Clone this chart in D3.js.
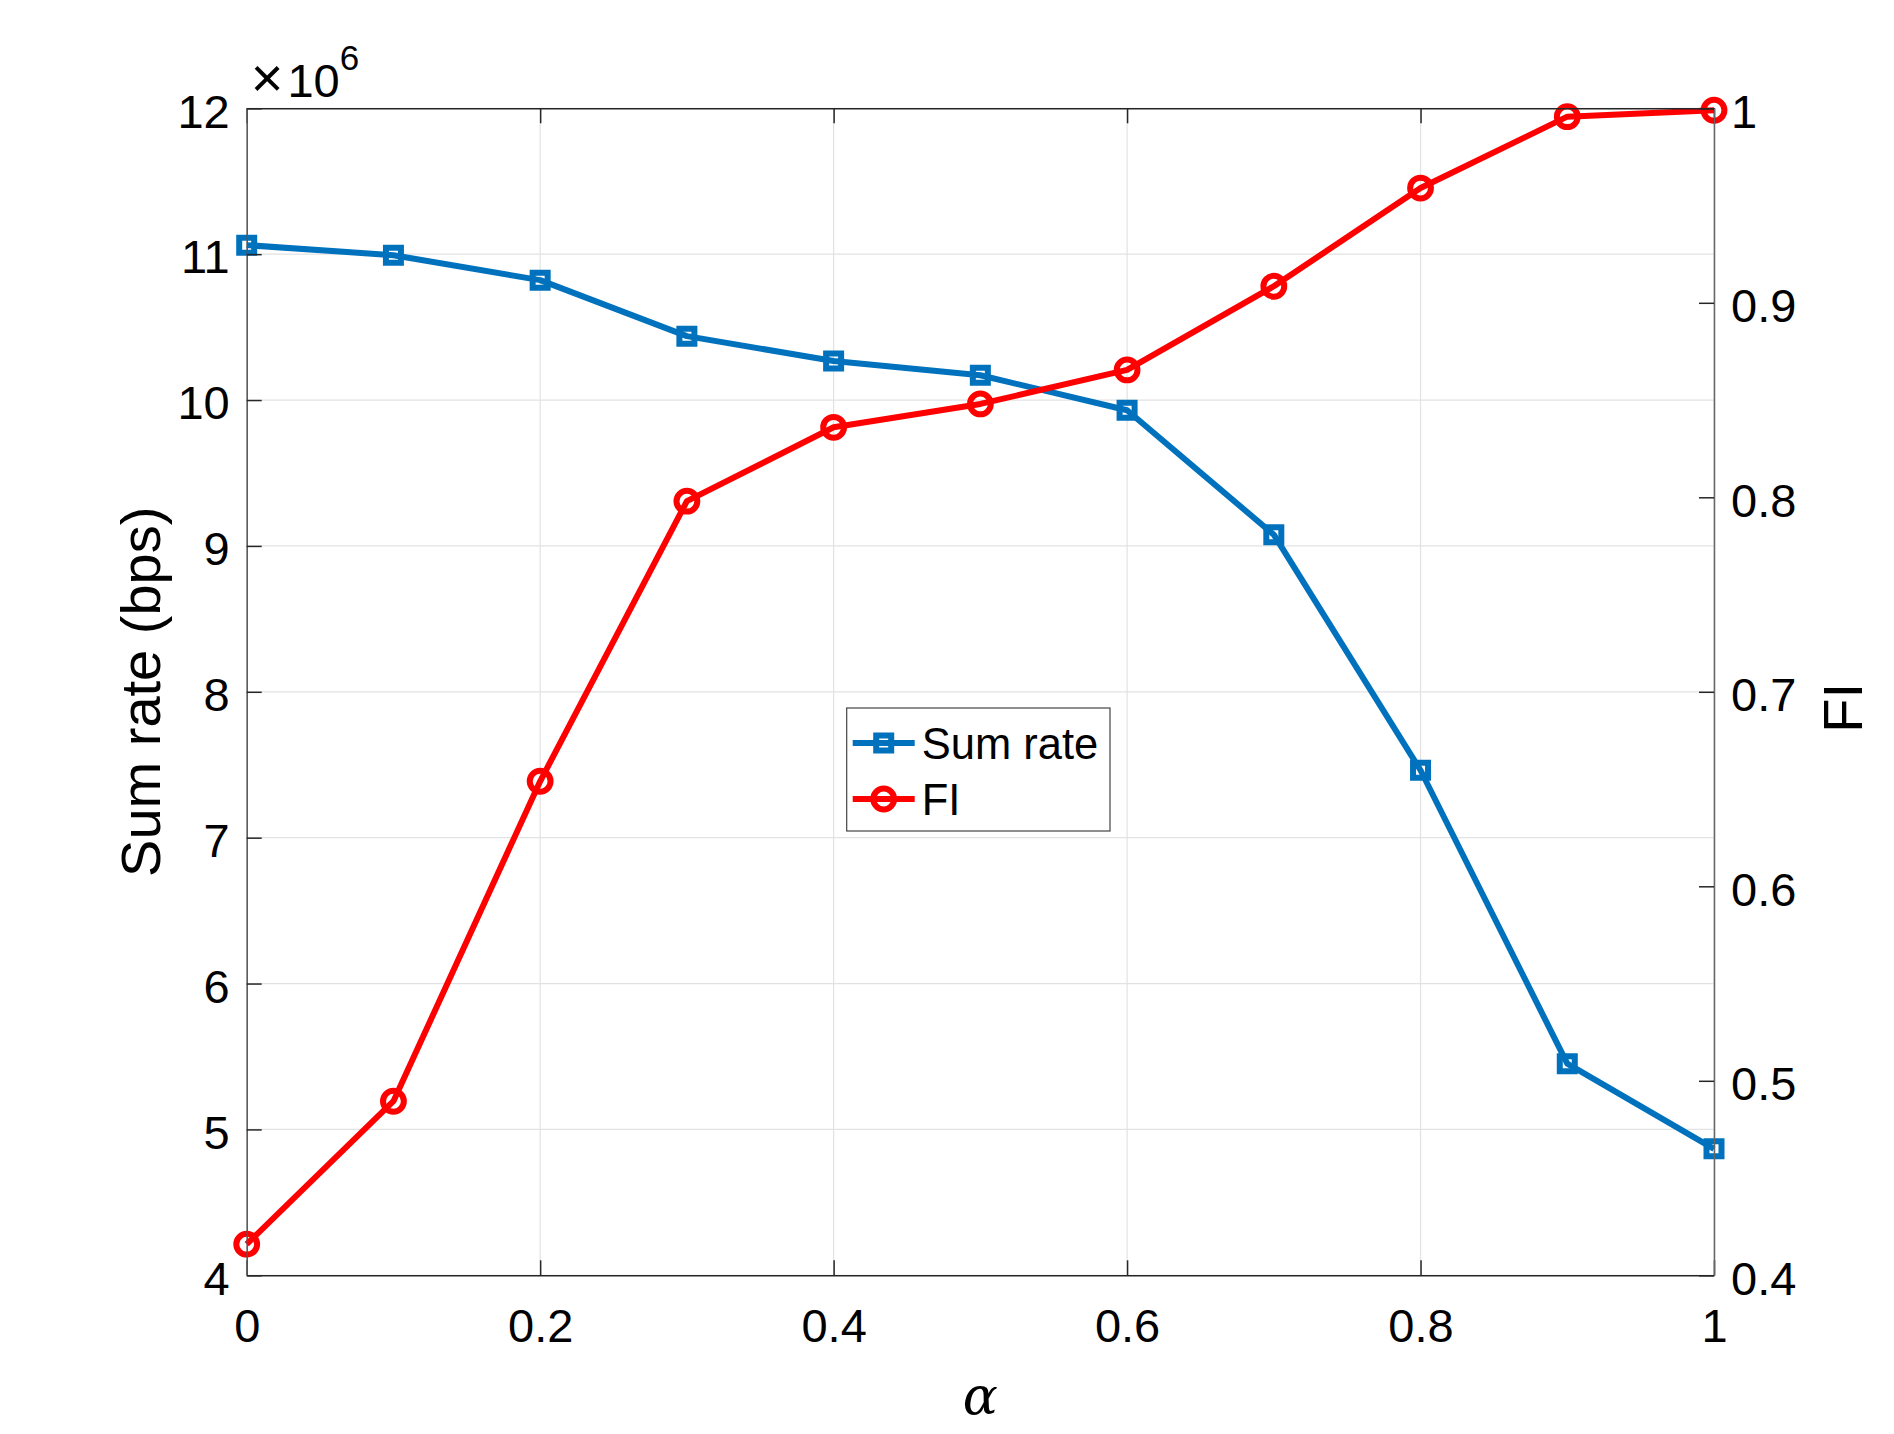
<!DOCTYPE html>
<html>
<head>
<meta charset="utf-8">
<script src="https://cdn.jsdelivr.net/npm/d3@7/dist/d3.min.js"></script>
<style>
    body { margin: 0; background: #ffffff; }
    #chart { width: 1894px; height: 1434px; }
</style>
</head>
<body>
<div id="chart"></div>
<script>
// alpha values on the x axis
const alphaValues = [0, 0.1, 0.2, 0.3, 0.4, 0.5, 0.6, 0.7, 0.8, 0.9, 1.0];
// sum rate, in units of 10^6 bps
const sumRate = [11.062, 10.993, 10.822, 10.438, 10.268, 10.170, 9.930, 9.077, 7.462, 5.451, 4.867];
// fairness index
const fairnessIndex = [0.416, 0.4895, 0.654, 0.798, 0.836, 0.848, 0.8655, 0.9085, 0.959, 0.9957, 0.999];

const xTicks = [0, 0.2, 0.4, 0.6, 0.8, 1];
const leftTicks = [4, 5, 6, 7, 8, 9, 10, 11, 12];
const rightTicks = [0.4, 0.5, 0.6, 0.7, 0.8, 0.9, 1];
const seriesNames = ["Sum rate", "FI"];

class DualAxisChart {
    constructor(parentElement) {
        this.parentElement = parentElement;
        this.initVis();
    }

    initVis() {
        let vis = this;

        vis.margin = {top: 108.3, right: 180, bottom: 158.7, left: 246.7};
        vis.totalWidth = 1894;
        vis.totalHeight = 1434;
        vis.width = vis.totalWidth - vis.margin.left - vis.margin.right;
        vis.height = vis.totalHeight - vis.margin.top - vis.margin.bottom;

        vis.font = "'Liberation Sans', Arial, Helvetica, sans-serif";
        vis.tickFont = 47;
        vis.labelFont = 56;
        vis.blue = "#0072BD";
        vis.red = "#FF0000";
        vis.lineW = 6;

        vis.svg = d3.select(vis.parentElement)
            .append("svg")
            .attr("width", vis.totalWidth)
            .attr("height", vis.totalHeight)
            .append("g")
            .attr("transform", `translate(${vis.margin.left},${vis.margin.top})`);

        // Scales
        vis.x = d3.scaleLinear().domain([0, 1]).range([0, vis.width]);
        vis.yLeft = d3.scaleLinear().domain([4, 12]).range([vis.height, 0]);
        vis.yRight = d3.scaleLinear().domain([0.4, 1]).range([vis.height, 0]);

        vis.updateVis();
    }

    updateVis() {
        let vis = this;

        // Grid
        const grid = vis.svg.append("g").attr("class", "grid");
        grid.selectAll(".vgrid")
            .data(xTicks)
            .join("line")
            .attr("x1", d => vis.x(d))
            .attr("x2", d => vis.x(d))
            .attr("y1", 0)
            .attr("y2", vis.height)
            .attr("stroke", "#e2e2e2")
            .attr("stroke-width", 1.2);
        grid.selectAll(".hgrid")
            .data(leftTicks)
            .join("line")
            .attr("x1", 0)
            .attr("x2", vis.width)
            .attr("y1", d => vis.yLeft(d))
            .attr("y2", d => vis.yLeft(d))
            .attr("stroke", "#e2e2e2")
            .attr("stroke-width", 1.2);

        // Lines
        const lineLeft = d3.line()
            .x((d, i) => vis.x(alphaValues[i]))
            .y(d => vis.yLeft(d));
        const lineRight = d3.line()
            .x((d, i) => vis.x(alphaValues[i]))
            .y(d => vis.yRight(d));

        const square = d3.symbol().type(d3.symbolSquare).size(225);
        const circle = d3.symbol().type(d3.symbolCircle).size(340);

        vis.svg.append("path")
            .datum(sumRate)
            .attr("fill", "none")
            .attr("stroke", vis.blue)
            .attr("stroke-width", vis.lineW)
            .attr("stroke-linejoin", "round")
            .attr("d", lineLeft);

        vis.svg.selectAll(".sq-marker")
            .data(sumRate)
            .join("path")
            .attr("class", "sq-marker")
            .attr("d", square)
            .attr("transform", (d, i) => `translate(${vis.x(alphaValues[i])},${vis.yLeft(d)})`)
            .attr("fill", "none")
            .attr("stroke", vis.blue)
            .attr("stroke-width", vis.lineW);

        vis.svg.append("path")
            .datum(fairnessIndex)
            .attr("fill", "none")
            .attr("stroke", vis.red)
            .attr("stroke-width", vis.lineW)
            .attr("stroke-linejoin", "round")
            .attr("d", lineRight);

        vis.svg.selectAll(".ci-marker")
            .data(fairnessIndex)
            .join("path")
            .attr("class", "ci-marker")
            .attr("d", circle)
            .attr("transform", (d, i) => `translate(${vis.x(alphaValues[i])},${vis.yRight(d)})`)
            .attr("fill", "none")
            .attr("stroke", vis.red)
            .attr("stroke-width", vis.lineW);

        // Axes
        const fmt = d => d3.format("~g")(d);

        const xAxis = d3.axisBottom(vis.x).tickValues(xTicks).tickFormat(fmt)
            .tickSizeInner(-15).tickSizeOuter(0).tickPadding(33);
        const xAxisTop = d3.axisTop(vis.x).tickValues(xTicks).tickFormat("")
            .tickSizeInner(-15).tickSizeOuter(0);
        const yAxisLeft = d3.axisLeft(vis.yLeft).tickValues(leftTicks).tickFormat(fmt)
            .tickSizeInner(-15).tickSizeOuter(0).tickPadding(17);
        const yAxisRight = d3.axisRight(vis.yRight).tickValues(rightTicks).tickFormat(fmt)
            .tickSizeInner(-15).tickSizeOuter(0).tickPadding(17);

        const xG = vis.svg.append("g")
            .attr("transform", `translate(0,${vis.height})`)
            .call(xAxis);
        const xTopG = vis.svg.append("g").call(xAxisTop);
        const yLG = vis.svg.append("g").call(yAxisLeft);
        const yRG = vis.svg.append("g")
            .attr("transform", `translate(${vis.width},0)`)
            .call(yAxisRight);

        [xG, xTopG, yLG, yRG].forEach(g => {
            g.select(".domain").attr("stroke", "#262626").attr("stroke-width", 1.5);
            g.selectAll(".tick line").attr("stroke", "#262626").attr("stroke-width", 1.5);
            g.selectAll(".tick text")
                .attr("fill", "#000")
                .style("font-family", vis.font)
                .style("font-size", vis.tickFont + "px");
        });
        yRG.select(".domain").attr("stroke", "#666");
        yLG.select(".domain").attr("stroke", "#555");
        yLG.selectAll(".tick text").attr("dy", "0.4em");
        yRG.selectAll(".tick text").attr("dy", "0.4em");

        // Exponent label
        const expo = vis.svg.append("text")
            .attr("x", 4)
            .attr("y", -11.6)
            .style("font-family", vis.font)
            .style("font-size", vis.tickFont + "px")
            .attr("fill", "#000");
        expo.append("tspan").style("font-size", "56px").text("\u00d7");
        expo.append("tspan").attr("dx", 4).text("10");
        expo.append("tspan")
            .attr("dy", -27)
            .style("font-size", "35px")
            .text("6");

        // Axis labels
        vis.svg.append("text")
            .attr("transform", `translate(${-87},${vis.height / 2}) rotate(-90)`)
            .attr("text-anchor", "middle")
            .style("font-family", vis.font)
            .style("font-size", vis.labelFont + "px")
            .attr("fill", "#000")
            .text("Sum rate (bps)");

        vis.svg.append("text")
            .attr("transform", `translate(${vis.width + 148},${vis.height / 2 + 16}) rotate(-90)`)
            .attr("text-anchor", "middle")
            .style("font-family", vis.font)
            .style("font-size", vis.labelFont + "px")
            .attr("fill", "#000")
            .text("FI");

        vis.svg.append("text")
            .attr("x", vis.width / 2)
            .attr("y", vis.height + 139)
            .attr("text-anchor", "middle")
            .style("font-family", "'DejaVu Serif', 'Liberation Serif', serif")
            .style("font-style", "italic")
            .style("font-size", "52px")
            .attr("fill", "#000")
            .text("\u03b1");

        // Legend
        const legend = vis.svg.append("g")
            .attr("transform", `translate(${846.7 - vis.margin.left},${708 - vis.margin.top})`);
        legend.append("rect")
            .attr("width", 263.3)
            .attr("height", 123)
            .attr("fill", "#fff")
            .attr("stroke", "#444")
            .attr("stroke-width", 1.2);

        const legendItems = legend.selectAll(".legend-item")
            .data(seriesNames)
            .join("g")
            .attr("class", "legend-item")
            .attr("transform", (d, i) => `translate(0,${35 + i * 56})`);

        legendItems.append("line")
            .attr("x1", 6)
            .attr("x2", 68)
            .attr("stroke", (d, i) => i === 0 ? vis.blue : vis.red)
            .attr("stroke-width", vis.lineW);

        legendItems.append("path")
            .attr("d", (d, i) => i === 0 ? square() : circle())
            .attr("transform", "translate(37,0)")
            .attr("fill", "none")
            .attr("stroke", (d, i) => i === 0 ? vis.blue : vis.red)
            .attr("stroke-width", vis.lineW);

        legendItems.append("text")
            .attr("x", 75)
            .attr("dy", "0.36em")
            .style("font-family", vis.font)
            .style("font-size", "43.5px")
            .attr("fill", "#000")
            .text(d => d);
    }
}

new DualAxisChart("#chart");
</script>
</body>
</html>
